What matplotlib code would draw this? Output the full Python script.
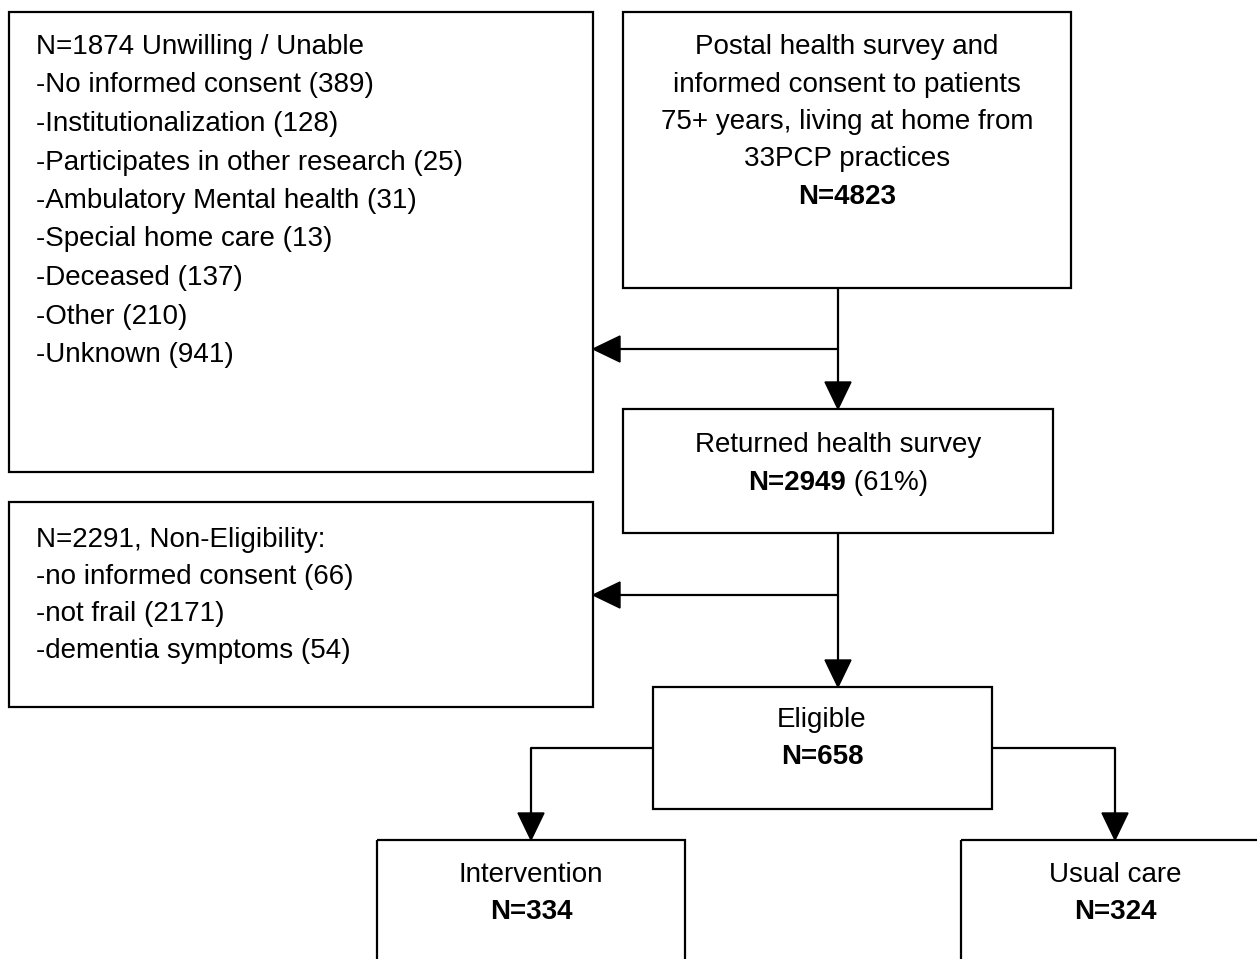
import matplotlib
matplotlib.use("Agg")
import matplotlib.pyplot as plt
from matplotlib.patches import Rectangle, Polygon

plt.rcParams['font.family'] = ['Liberation Sans', 'DejaVu Sans']

# flow content
unwilling_total = 1874
unwilling_reasons = ["No informed consent", "Institutionalization", "Participates in other research",
                     "Ambulatory Mental health", "Special home care", "Deceased", "Other", "Unknown"]
unwilling_counts = [389, 128, 25, 31, 13, 137, 210, 941]

invited_n = 4823
invited_text = ["Postal health survey and", "informed consent to patients",
                "75+ years, living at home from", "33PCP practices"]

returned_n = 2949
returned_pct = 61

nonelig_total = 2291
nonelig_reasons = ["no informed consent", "not frail", "dementia symptoms"]
nonelig_counts = [66, 2171, 54]

eligible_n = 658
arms = ["Intervention", "Usual care"]
arm_n = [334, 324]

W, H = 1257, 959
fig = plt.figure(figsize=(W / 100, H / 100), dpi=100)
ax = fig.add_axes([0, 0, 1, 1])
ax.set_xlim(0, W)
ax.set_ylim(H, 0)
ax.axis('off')

FS = 20
LW = 1.6
LH = 37.5


def box(x0, y0, x1, y1):
    ax.add_patch(Rectangle((x0, y0), x1 - x0, y1 - y0, fill=False, ec='black', lw=LW))


def line(xs, ys):
    ax.plot(xs, ys, color='black', lw=LW, solid_capstyle='butt')


def head(x, y, d):
    # filled triangle, tip at (x, y)
    L, h = 27, 13
    if d == 'down':
        pts = [(x, y), (x - h, y - L), (x + h, y - L)]
    else:
        pts = [(x, y), (x + L, y - h), (x + L, y + h)]
    ax.add_patch(Polygon(pts, closed=True, color='black'))


def txt(x, y, s, ha='left', bold=False):
    return ax.text(x, y, s, fontsize=FS, ha=ha, va='center',
                   fontweight='bold' if bold else 'normal')


# boxes
box(9, 12, 593, 472)
box(623, 12, 1071, 288)
box(623, 409, 1053, 533)
box(9, 502, 593, 707)
box(653, 687, 992, 809)
box(377, 840, 685, 980)
box(961, 840, 1280, 980)

# connectors
line([838, 838], [288, 395])
head(838, 409, 'down')
line([838, 605], [349, 349])
head(593, 349, 'left')

line([838, 838], [533, 673])
head(838, 687, 'down')
line([838, 605], [595, 595])
head(593, 595, 'left')

line([653, 531, 531], [748, 748, 826])
head(531, 840, 'down')
line([992, 1115, 1115], [748, 748, 826])
head(1115, 840, 'down')

# left top box
lines_a = ["N=%d Unwilling / Unable" % unwilling_total] + \
          ["-%s (%d)" % (r, c) for r, c in zip(unwilling_reasons, unwilling_counts)]
for i, s in enumerate(lines_a):
    txt(36, 47 + i * 38.5, s)

# invitation box
for i, s in enumerate(invited_text):
    txt(847, 47 + i * LH, s, ha='center')
txt(847, 47 + 4 * LH, "N=%d" % invited_n, ha='center', bold=True)

# returned box, bold + regular on one line
txt(838, 445, "Returned health survey", ha='center')
fig.canvas.draw()
r = fig.canvas.get_renderer()
tb = txt(0, 483, "N=%d" % returned_n, bold=True)
tr = txt(0, 483, " (%d%%)" % returned_pct)
wb = tb.get_window_extent(r).width
wr = tr.get_window_extent(r).width
x0 = 838 - (wb + wr) / 2
tb.set_x(x0)
tr.set_x(x0 + wb)

# non-eligible box
lines_d = ["N=%d, Non-Eligibility:" % nonelig_total] + \
          ["-%s (%d)" % (r_, c) for r_, c in zip(nonelig_reasons, nonelig_counts)]
for i, s in enumerate(lines_d):
    txt(36, 540 + i * 37, s)

# eligible
txt(822, 720, "Eligible", ha='center')
txt(822, 757, "N=%d" % eligible_n, ha='center', bold=True)

# arms
for cx, name, n in zip([531, 1115], arms, arm_n):
    txt(cx, 875, name, ha='center')
    txt(cx, 912, "N=%d" % n, ha='center', bold=True)

fig.savefig("out.png", dpi=100, facecolor='white')
